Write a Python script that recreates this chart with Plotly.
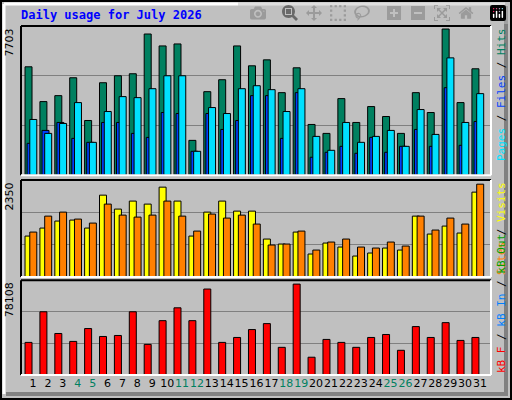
import plotly.graph_objects as go

days = list(range(1, 32))
weekend = [4, 5, 11, 12, 18, 19, 25, 26]

hits = [5597, 3800, 4108, 5032, 2824, 4775, 5135, 5238, 7292, 6676, 6778, 1797, 4313, 4930, 6676, 5649,
        5957, 4262, 5546, 2619, 2157, 3954, 2722, 3543, 3030, 2157, 4262, 3235, 7549, 3749, 5495]
files = [1643, 2311, 2722, 1900, 1695, 2722, 2722, 2157, 1951, 3235, 3184, 1232, 3184, 2362, 2824, 4108,
         4108, 1900, 4262, 924, 1181, 1489, 1130, 1951, 1181, 1489, 2362, 1489, 4519, 1541, 2773]
pages = [2876, 2157, 2670, 3749, 1695, 3287, 4057, 4005, 4467, 5135, 5135, 1232, 3492, 3184, 4467, 4621,
         4416, 3287, 4467, 2003, 1284, 2722, 1695, 2003, 2311, 1489, 3389, 2105, 6059, 2722, 4211]
visits = [992, 1186, 1356, 1380, 1186, 1984, 1646, 1840, 1767, 2178, 1840, 992, 1573, 1840, 1597, 1597,
          920, 799, 1089, 557, 823, 726, 508, 581, 702, 653, 1476, 1041, 1234, 1065, 2057]
sites = [1089, 1476, 1573, 1404, 1307, 1767, 1500, 1452, 1500, 1840, 1476, 1113, 1525, 1428, 1500, 1283,
         775, 799, 1113, 653, 847, 920, 726, 702, 847, 750, 1476, 1138, 1428, 1283, 2250]
kbytes = [26849, 52071, 34171, 27663, 38239, 31731, 32544, 52071, 25222, 44750, 55325, 44750, 70785, 26849,
          30917, 37426, 42308, 22781, 74853, 14645, 29290, 26849, 22781, 30917, 33358, 20340, 39866, 30917,
          43121, 28476, 30917]

max_hits, max_visits, max_kb = 7703, 2350, 78108
bg = "#c0c0c0"
grid = "#808080"
mono = "DejaVu Sans Mono"

fig = go.Figure()


def add_bar(y, color, name, axis, offset):
    fig.add_trace(go.Bar(x=days, y=y, name=name, marker_color=color, width=0.47, offset=offset,
                         marker_line=dict(color="black", width=1), xaxis="x" + axis, yaxis="y" + axis))


add_bar(hits, "#008060", "Hits", "", -0.54)
add_bar(files, "#0040ff", "Files", "", -0.4)
add_bar(pages, "#00e0ff", "Pages", "", -0.22)
add_bar(visits, "#ffff00", "Visits", "2", -0.54)
add_bar(sites, "#ff8000", "Sites", "2", -0.22)
add_bar(kbytes, "#ff0000", "KB F", "3", -0.54)

ticktext = [f"<span style='color:#008060'>{d}</span>" if d in weekend else str(d) for d in days]
xcommon = dict(range=[0.19, 31.74], showgrid=False, zeroline=False, fixedrange=True, automargin=False)
ycommon = dict(gridcolor=grid, showticklabels=False, zeroline=False, automargin=False)
fig.update_layout(
    width=512, height=400, showlegend=False, barmode="overlay",
    paper_bgcolor=bg, plot_bgcolor=bg,
    margin=dict(l=21, r=21, t=25, b=25),
    font=dict(family=mono, size=11, color="black"),
    xaxis=dict(xcommon, anchor="y", showticklabels=False),
    xaxis2=dict(xcommon, anchor="y2", showticklabels=False, matches="x"),
    xaxis3=dict(xcommon, anchor="y3", tickvals=days, ticktext=ticktext, ticks="", tickangle=0,
                tickfont=dict(family="DejaVu Sans", size=11), matches="x"),
    yaxis=dict(ycommon, domain=[0.571, 0.997], range=[0, max_hits], dtick=max_hits / 3),
    yaxis2=dict(ycommon, domain=[0.28, 0.557], range=[0, max_visits], dtick=max_visits / 3),
    yaxis3=dict(ycommon, domain=[0, 0.271], range=[0, max_kb], dtick=max_kb / 3),
)

shapes = []
# outer frame with bevel
shapes.append(dict(type="rect", xref="paper", yref="paper", x0=-20 / 470, x1=1 + 20 / 470, y0=-24 / 350,
                   y1=1 + 24 / 350, line=dict(color="black", width=2)))
shapes.append(dict(type="line", xref="paper", yref="paper", x0=1 + 15 / 470, x1=1 + 15 / 470,
                   y0=-19 / 350, y1=1 + 19 / 350, line=dict(color="#808080", width=4)))
shapes.append(dict(type="line", xref="paper", yref="paper", x0=-15 / 470, x1=1 + 17 / 470,
                   y0=-19 / 350, y1=-19 / 350, line=dict(color="#808080", width=4)))
shapes.append(dict(type="line", xref="paper", yref="paper", x0=-17 / 470, x1=-17 / 470,
                   y0=-19 / 350, y1=1 + 21 / 350, line=dict(color="white", width=3)))
shapes.append(dict(type="line", xref="paper", yref="paper", x0=-17 / 470, x1=1 + 14 / 470,
                   y0=1 + 21 / 350, y1=1 + 21 / 350, line=dict(color="white", width=3)))
for ax in ["", "2", "3"]:
    yd = fig.layout["yaxis" + ax].domain
    shapes.append(dict(type="line", xref="paper", yref="paper", x0=0, x1=0, y0=yd[0], y1=yd[1],
                       line=dict(color="black", width=2)))
    shapes.append(dict(type="line", xref="paper", yref="paper", x0=0, x1=1, y0=yd[1], y1=yd[1],
                       line=dict(color="black", width=2)))
    shapes.append(dict(type="line", xref="paper", yref="paper", x0=1, x1=1, y0=yd[0], y1=yd[1],
                       line=dict(color="white", width=2)))
    shapes.append(dict(type="line", xref="paper", yref="paper", x0=0, x1=1, y0=yd[0], y1=yd[0],
                       line=dict(color="white", width=2)))
fig.update_layout(shapes=shapes)

anns = [
    dict(text="<b>Daily usage for July 2026</b>", x=-2 / 470, y=1 + 10 / 350, xanchor="left",
         yanchor="middle", font=dict(color="#0000ff", size=12, family=mono)),
    dict(text=str(max_hits), x=-3 / 470, y=0.997, xanchor="right", yanchor="top", textangle=-90,
         font=dict(size=11, family="DejaVu Sans")),
    dict(text=str(max_visits), x=-3 / 470, y=0.557, xanchor="right", yanchor="top", textangle=-90,
         font=dict(size=11, family="DejaVu Sans")),
    dict(text=str(max_kb), x=-3 / 470, y=0.271, xanchor="right", yanchor="top", textangle=-90,
         font=dict(size=11, family="DejaVu Sans")),
    dict(text="<span style='color:#00e0ff'>Pages</span> / <span style='color:#0040ff'>Files</span>"
              " / <span style='color:#008060'>Hits</span>",
         x=1 + 2 / 470, y=0.997, xanchor="left", yanchor="top", textangle=-90),
    dict(text="<span style='color:#ff8000'>Sites</span> / <span style='color:#ffff00'>Visits</span>",
         x=1 + 2 / 470, y=0.557, xanchor="left", yanchor="top", textangle=-90),
    dict(text="<span style='color:#ff0000'>kB F</span> / <span style='color:#0080ff'>kB In</span>"
              " / <span style='color:#00a000'>kB Out</span>",
         x=1 + 2 / 470, y=0.0, xanchor="left", yanchor="bottom", textangle=-90),
]
for a in anns:
    a.update(xref="paper", yref="paper", showarrow=False)
fig.update_layout(annotations=anns)

fig.write_html("out.html", post_script="document.body.style.margin='0';")
